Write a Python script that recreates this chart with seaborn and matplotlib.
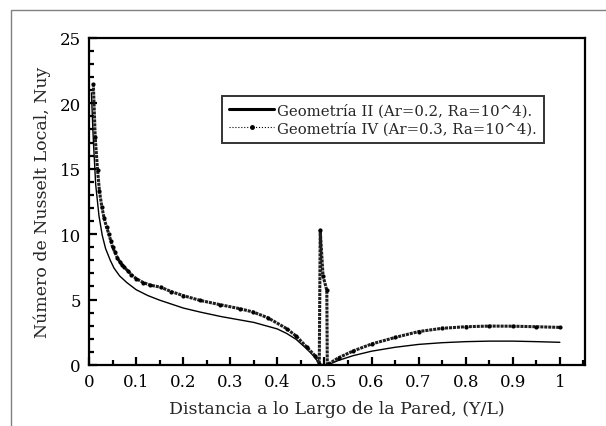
import numpy as np
import pandas as pd
import matplotlib
matplotlib.use("Agg")
import matplotlib.pyplot as plt
import seaborn as sns
from matplotlib.lines import Line2D
from matplotlib.patches import Rectangle
from matplotlib.ticker import MultipleLocator

# ---------- data ----------
# Geometria II (Ar=0.2) - lower curve, solid
y_ii = [0.005, 0.008, 0.010, 0.014, 0.021, 0.028, 0.035, 0.045, 0.053, 0.065,
        0.080, 0.100, 0.125, 0.150, 0.200, 0.236, 0.280, 0.350, 0.400, 0.420,
        0.440, 0.460, 0.470, 0.480, 0.490, 0.505, 0.510, 0.530, 0.560, 0.600,
        0.650, 0.700, 0.750, 0.800, 0.850, 0.900, 0.950, 1.000]
nu_ii = [20.8, 18.0, 16.5, 13.8, 11.4, 9.9, 8.9, 8.0, 7.4, 6.8,
         6.3, 5.75, 5.3, 4.95, 4.35, 4.04, 3.7, 3.25, 2.75, 2.4,
         1.95, 1.3, 0.95, 0.55, 0.05, 0.0, 0.05, 0.35, 0.7, 1.05,
         1.35, 1.57, 1.7, 1.78, 1.82, 1.82, 1.78, 1.73]

# Geometria IV (Ar=0.3) - upper curve, dotted with markers
y_iv = [0.009, 0.013, 0.018, 0.022, 0.027, 0.032, 0.037, 0.042, 0.046, 0.050,
        0.055, 0.060, 0.065, 0.070, 0.075, 0.082, 0.090, 0.100, 0.115, 0.130,
        0.152, 0.175, 0.200, 0.236, 0.279, 0.320, 0.349, 0.380, 0.420, 0.440,
        0.462, 0.480, 0.489, 0.491, 0.497, 0.505, 0.506, 0.510, 0.530, 0.560,
        0.600, 0.650, 0.700, 0.750, 0.800, 0.850, 0.900, 0.950, 1.000]
nu_iv = [21.5, 17.4, 14.9, 13.3, 12.1, 11.2, 10.55, 10.0, 9.5, 9.0,
         8.6, 8.2, 7.9, 7.65, 7.45, 7.2, 6.9, 6.6, 6.3, 6.1,
         5.94, 5.6, 5.3, 4.93, 4.6, 4.3, 4.04, 3.6, 2.77, 2.2,
         1.38, 0.7, 0.1, 10.3, 6.8, 5.7, 0.0, 0.1, 0.55, 1.05,
         1.6, 2.1, 2.55, 2.8, 2.92, 2.97, 2.96, 2.92, 2.87]

label_ii = "Geometría II (Ar=0.2, Ra=10^4)."
label_iv = "Geometría IV (Ar=0.3, Ra=10^4)."
x_ticks = [0, 0.1, 0.2, 0.3, 0.4, 0.5, 0.6, 0.7, 0.8, 0.9, 1.0]
x_tick_labels = ["0", "0.1", "0.2", "0.3", "0.4", "0.5", "0.6", "0.7", "0.8", "0.9", "1"]
y_ticks = [0, 5, 10, 15, 20, 25]

df_ii = pd.DataFrame({"x": y_ii, "nu": nu_ii})
df_iv = pd.DataFrame({"x": y_iv, "nu": nu_iv})

# ---------- style ----------
sns.set_theme(style="ticks")
plt.rcParams["font.family"] = ["DejaVu Serif"]
plt.rcParams["axes.linewidth"] = 1.6

fig = plt.figure(figsize=(6.06, 4.27), dpi=100)
ax = fig.add_axes([0.147, 0.143, 0.818, 0.766])

sns.lineplot(data=df_ii, x="x", y="nu", ax=ax, color="black", lw=1.0,
             sort=False, estimator=None)
# dense dotted stroke with dot markers -> looks like a thick beaded line
sns.lineplot(data=df_iv, x="x", y="nu", ax=ax, color="#1e1e1e", lw=2.2,
             linestyle=(0, (1, 0.3)), marker="o", markersize=3,
             markeredgewidth=0, markerfacecolor="black",
             sort=False, estimator=None)

ax.set_xlim(0, 1.053)
ax.set_ylim(0, 25)
ax.set_xticks(x_ticks)
ax.set_xticklabels(x_tick_labels)
ax.set_yticks(y_ticks)
ax.xaxis.set_minor_locator(MultipleLocator(0.05))
ax.yaxis.set_minor_locator(MultipleLocator(1))
ax.tick_params(which="both", direction="in", top=False, right=False,
               width=1.6, colors="black", labelsize=12, pad=6)
ax.tick_params(which="major", length=6)
ax.tick_params(which="minor", length=3.5)
for s in ax.spines.values():
    s.set_visible(True)
    s.set_color("black")

ax.set_xlabel("Distancia a lo Largo de la Pared, (Y/L)", fontsize=12.5, labelpad=7)
ax.set_ylabel("Número de Nusselt Local, Nuy", fontsize=12.5, labelpad=6)

handles = [
    Line2D([], [], color="black", lw=2.2),
    Line2D([], [], color="black", lw=0.8, linestyle=":", marker="o",
           markersize=2.5, markevery=[1]),
]
leg = ax.legend(handles, [label_ii, label_iv], loc="upper left",
                bbox_to_anchor=(0.268, 0.823), fontsize=10.7, frameon=True,
                fancybox=False, borderpad=0.5, handlelength=3.0,
                handletextpad=0.2, labelspacing=0.25, borderaxespad=0)
leg.get_frame().set_edgecolor("black")
leg.get_frame().set_linewidth(1.4)

# outer gray frame
fig.patches.append(Rectangle((0.018, -0.05), 1.2, 1.024, transform=fig.transFigure,
                             fill=False, edgecolor="#808080", lw=1.0))

fig.savefig("out.png", dpi=100)
